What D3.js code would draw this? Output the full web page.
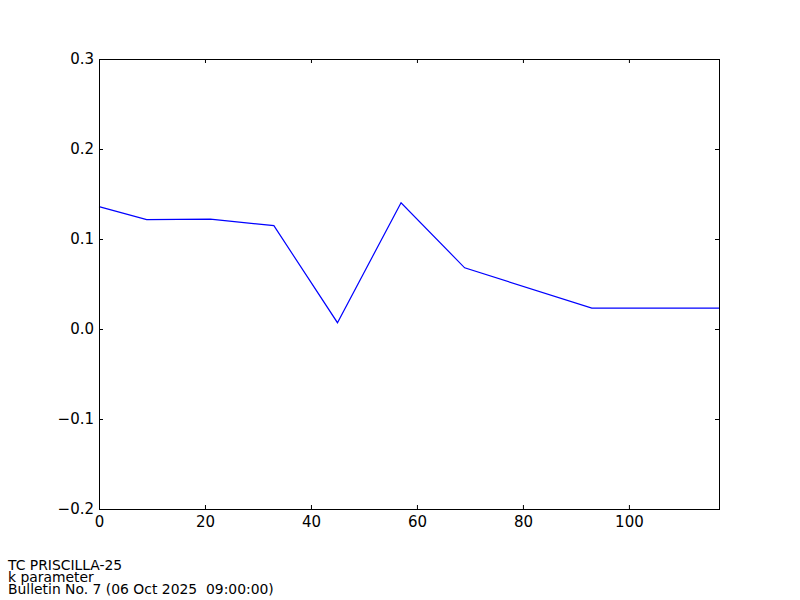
<!DOCTYPE html>
<html>
<head>
<meta charset="utf-8">
<script src="https://cdn.jsdelivr.net/npm/d3@7"></script>
<style>
  body { margin: 0; background: #fff; }
  svg { display: block; font-family: "DejaVu Sans", sans-serif; }
</style>
</head>
<body>
<script>
    // k parameter by forecast hour
    const hours = [0, 9, 21, 33, 45, 57, 69, 93, 117];
    const kValues = [0.136, 0.1215, 0.122, 0.1148, 0.007, 0.1403, 0.068, 0.0233, 0.0233];
    const xTicks = [0, 20, 40, 60, 80, 100];
    const yTicks = [-0.2, -0.1, 0.0, 0.1, 0.2, 0.3];
    const footerLines = ["TC PRISCILLA-25", "k parameter", "Bulletin No. 7 (06 Oct 2025  09:00:00)"];

(function() {
    const W = 800, H = 600;
    const plotLeft = 99, plotRight = 719, plotTop = 59, plotBottom = 509;
    const TICK = 4;

    var svg = d3.select("body").append("svg")
        .attr("width", W)
        .attr("height", H);

    var x = d3.scaleLinear().domain([0, 117]).range([plotLeft, plotRight]);
    var y = d3.scaleLinear().domain([-0.2, 0.3]).range([plotBottom, plotTop]);

    function fmtY(d) {
        var s = d3.format(".1f")(Math.abs(d));
        return d < 0 ? "\u2212" + s : s;
    }

    // data line, drawn first so frame sits on top
    var line = d3.line()
        .x(function(d, i) { return x(hours[i]); })
        .y(function(d) { return y(d); });

    svg.append("path")
        .datum(kValues)
        .attr("fill", "none")
        .attr("stroke", "#0000ff")
        .attr("stroke-width", 1.2)
        .attr("d", line);

    // axes with inward ticks on all sides
    var axisBottom = d3.axisBottom(x).tickValues(xTicks).tickSize(-TICK).tickPadding(7).tickFormat(d3.format("d"));
    var axisTop = d3.axisTop(x).tickValues(xTicks).tickSize(-TICK).tickFormat("");
    var axisLeft = d3.axisLeft(y).tickValues(yTicks).tickSize(-TICK).tickPadding(5).tickFormat(fmtY);
    var axisRight = d3.axisRight(y).tickValues(yTicks).tickSize(-TICK).tickFormat("");

    function styleAxis(g) {
        g.attr("font-family", null).attr("font-size", null);
        g.select(".domain").remove();
        g.selectAll(".tick line").attr("stroke", "#000");
        g.selectAll(".tick text")
            .attr("fill", "#000")
            .style("font-family", "'DejaVu Sans', sans-serif")
            .style("font-size", "15px");
    }

    svg.append("g").attr("transform", "translate(0," + plotBottom + ")").call(axisBottom).call(styleAxis);
    svg.append("g").attr("transform", "translate(0," + plotTop + ")").call(axisTop).call(styleAxis);
    svg.append("g").attr("transform", "translate(" + plotLeft + ",0)").call(axisLeft).call(styleAxis);
    svg.append("g").attr("transform", "translate(" + plotRight + ",0)").call(axisRight).call(styleAxis);

    // frame
    svg.append("rect")
        .attr("x", plotLeft + 0.5)
        .attr("y", plotTop + 0.5)
        .attr("width", plotRight - plotLeft)
        .attr("height", plotBottom - plotTop)
        .attr("fill", "none")
        .attr("stroke", "#000")
        .attr("stroke-width", 1);

    // footer (lines set tight, as in the original)
    svg.selectAll("text.footer")
        .data(footerLines)
        .enter()
        .append("text")
        .attr("class", "footer")
        .attr("x", 8)
        .attr("y", function(d, i) { return 570 + i * 12; })
        .attr("fill", "#000")
        .style("font-size", "13.9px")
        .style("white-space", "pre")
        .text(function(d) { return d; });
})();
</script>
</body>
</html>
